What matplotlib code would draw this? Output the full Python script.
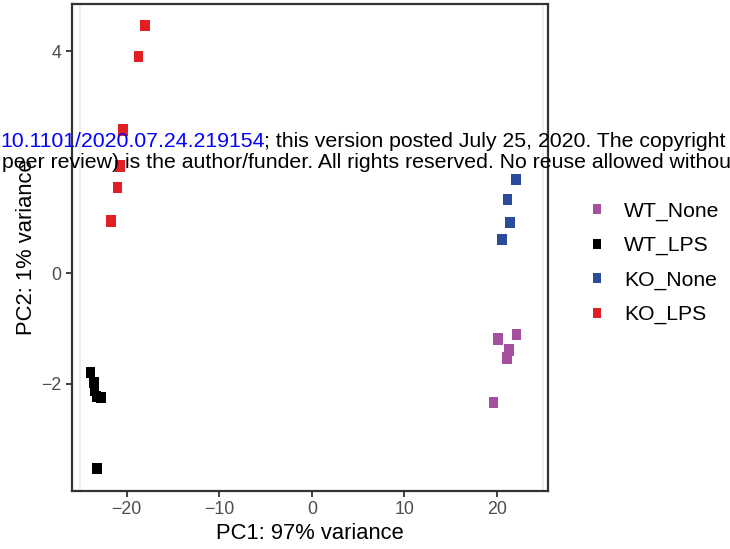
import matplotlib
matplotlib.use('Agg')
import matplotlib.pyplot as plt
from matplotlib.lines import Line2D

plt.rcParams['font.family'] = ['Liberation Sans', 'DejaVu Sans']

# Datos PCA por grupo
groups = ['WT_None', 'WT_LPS', 'KO_None', 'KO_LPS']
colors = ['#a4509e', '#000000', '#2b4c9c', '#e31f26']

pc1 = {
    'WT_None': [20.1, 22.1, 21.3, 21.05, 19.6],
    'WT_LPS': [-23.9, -23.55, -23.45, -23.25, -22.75, -23.2],
    'KO_None': [22.05, 21.1, 21.4, 20.55],
    'KO_LPS': [-18.0, -18.7, -20.4, -20.7, -21.0, -21.7],
}
pc2 = {
    'WT_None': [-1.19, -1.11, -1.39, -1.53, -2.34],
    'WT_LPS': [-1.80, -1.98, -2.12, -2.23, -2.25, -3.53],
    'KO_None': [1.69, 1.33, 0.91, 0.61],
    'KO_LPS': [4.46, 3.90, 2.58, 1.93, 1.54, 0.94],
}

x_ticks = [-20, -10, 0, 10, 20]
y_ticks = [-2, 0, 4]

# marcador rectangular (un poco mas alto que ancho)
rect = [(-0.42, -0.5), (0.42, -0.5), (0.42, 0.5), (-0.42, 0.5), (-0.42, -0.5)]

fig = plt.figure(figsize=(7.3, 5.49), dpi=100)
ax = fig.add_axes([72 / 730, 1 - 491 / 549, 476 / 730, 487 / 549])

ax.axvline(-25, color='#ebebeb', lw=1.2, zorder=0)
ax.axvline(25, color='#ebebeb', lw=1.2, zorder=0)

for g, c in zip(groups, colors):
    ax.scatter(pc1[g], pc2[g], marker=rect, s=66, color=c, edgecolors='none', zorder=3)

ax.set_xlim(-25.9, 25.5)
ax.set_ylim(-3.93, 4.85)
ax.set_xticks(x_ticks)
ax.set_yticks(y_ticks)
ax.set_xticklabels(['\u221220', '\u221210', '0', '10', '20'])
ax.set_yticklabels(['\u22122', '0', '4'])
ax.tick_params(colors='#333333', labelcolor='#4d4d4d', labelsize=12.8, width=1.3, length=4)
for s in ax.spines.values():
    s.set_linewidth(1.6)
    s.set_color('#333333')

ax.set_xlabel('PC1: 97% variance', fontsize=15.8, labelpad=3)
ax.set_ylabel('PC2: 1% variance', fontsize=15.8, labelpad=3)

handles = [Line2D([], [], marker=rect, linestyle='none', markersize=7, color=c, markeredgewidth=0)
           for c in colors]
fig.legend(handles, groups, loc='center left', bbox_to_anchor=(565 / 730, 1 - 263 / 549),
           frameon=False, fontsize=15.2, handletextpad=0.7, labelspacing=0.72, handlelength=1.2)

# marca de agua del preprint
wm_size = 15.3
t1 = fig.text(0, 1 - 141 / 549, '10.1101/2020.07.24.219154', color='#0000ff', fontsize=wm_size,
              va='center', ha='left')
fig.canvas.draw()
bb = t1.get_window_extent()
fig.text(bb.x1 / (730), 1 - 141 / 549, '; this version posted July 25, 2020. The copyright',
         color='black', fontsize=wm_size, va='center', ha='left')
fig.text(0.003, 1 - 163 / 549,
         'peer review) is the author/funder. All rights reserved. No reuse allowed without',
         color='black', fontsize=wm_size, va='center', ha='left')

fig.savefig('out.png', dpi=100)
